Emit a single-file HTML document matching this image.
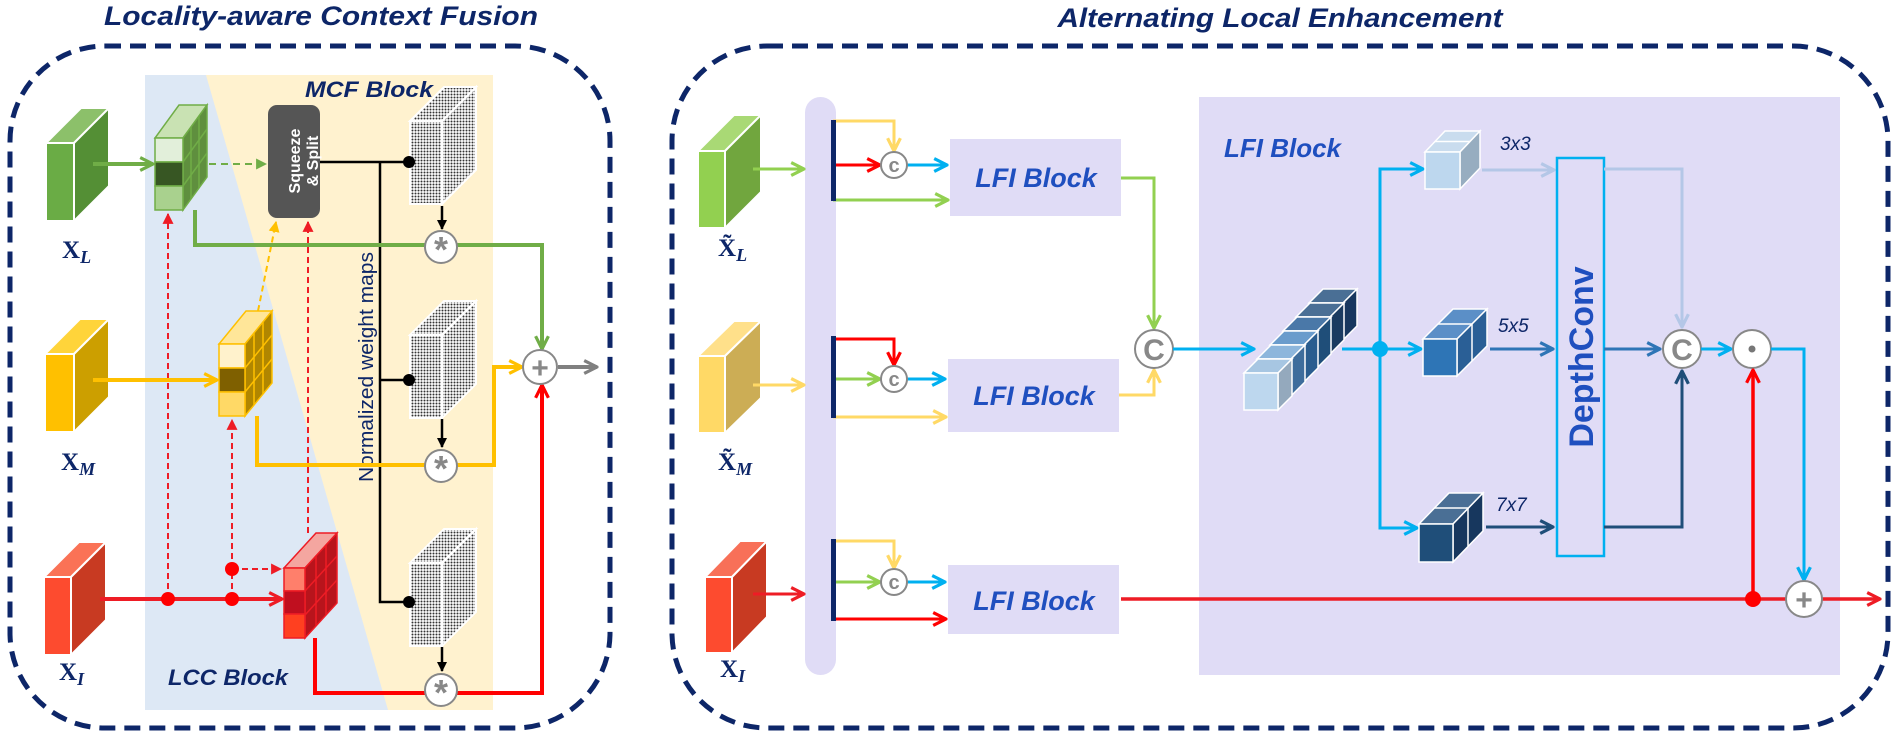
<!DOCTYPE html>
<html><head><meta charset="utf-8"><style>
html,body{margin:0;padding:0;background:#fff;}
svg{display:block;}
text{font-family:"Liberation Sans",sans-serif;}
text.sf{font-family:"Liberation Serif",serif;}
</style></head><body>
<svg width="1895" height="741" viewBox="0 0 1895 741" xmlns="http://www.w3.org/2000/svg">
<defs>
<pattern id="dots" width="3" height="3" patternUnits="userSpaceOnUse"><rect width="3" height="3" fill="#fff"/><circle cx="1.5" cy="1.5" r="1" fill="#333"/></pattern>
<marker id="g1" viewBox="0 0 10 10" refX="9" refY="5" markerWidth="16" markerHeight="16" markerUnits="userSpaceOnUse" orient="auto"><path d="M1,1 L9,5 L1,9" fill="none" stroke="#70ad47" stroke-width="2"/></marker>
<marker id="y1" viewBox="0 0 10 10" refX="9" refY="5" markerWidth="16" markerHeight="16" markerUnits="userSpaceOnUse" orient="auto"><path d="M1,1 L9,5 L1,9" fill="none" stroke="#ffc000" stroke-width="2"/></marker>
<marker id="r1" viewBox="0 0 10 10" refX="9" refY="5" markerWidth="16" markerHeight="16" markerUnits="userSpaceOnUse" orient="auto"><path d="M1,1 L9,5 L1,9" fill="none" stroke="#ff0000" stroke-width="2"/></marker>
<marker id="r2" viewBox="0 0 10 10" refX="9" refY="5" markerWidth="16" markerHeight="16" markerUnits="userSpaceOnUse" orient="auto"><path d="M1,1 L9,5 L1,9" fill="none" stroke="#ee1c25" stroke-width="2"/></marker>
<marker id="gr" viewBox="0 0 10 10" refX="9" refY="5" markerWidth="16" markerHeight="16" markerUnits="userSpaceOnUse" orient="auto"><path d="M1,1 L9,5 L1,9" fill="none" stroke="#808080" stroke-width="2"/></marker>
<marker id="g2" viewBox="0 0 10 10" refX="9" refY="5" markerWidth="16" markerHeight="16" markerUnits="userSpaceOnUse" orient="auto"><path d="M1,1 L9,5 L1,9" fill="none" stroke="#92d050" stroke-width="2"/></marker>
<marker id="y2" viewBox="0 0 10 10" refX="9" refY="5" markerWidth="16" markerHeight="16" markerUnits="userSpaceOnUse" orient="auto"><path d="M1,1 L9,5 L1,9" fill="none" stroke="#ffd966" stroke-width="2"/></marker>
<marker id="bl" viewBox="0 0 10 10" refX="9" refY="5" markerWidth="16" markerHeight="16" markerUnits="userSpaceOnUse" orient="auto"><path d="M1,1 L9,5 L1,9" fill="none" stroke="#00b0f0" stroke-width="2"/></marker>
<marker id="lb" viewBox="0 0 10 10" refX="9" refY="5" markerWidth="16" markerHeight="16" markerUnits="userSpaceOnUse" orient="auto"><path d="M1,1 L9,5 L1,9" fill="none" stroke="#b4c7e7" stroke-width="2"/></marker>
<marker id="mb" viewBox="0 0 10 10" refX="9" refY="5" markerWidth="16" markerHeight="16" markerUnits="userSpaceOnUse" orient="auto"><path d="M1,1 L9,5 L1,9" fill="none" stroke="#2e75b6" stroke-width="2"/></marker>
<marker id="db" viewBox="0 0 10 10" refX="9" refY="5" markerWidth="16" markerHeight="16" markerUnits="userSpaceOnUse" orient="auto"><path d="M1,1 L9,5 L1,9" fill="none" stroke="#1f4e79" stroke-width="2"/></marker>
<marker id="kt" viewBox="0 0 10 10" refX="9" refY="5" markerWidth="10" markerHeight="10" markerUnits="userSpaceOnUse" orient="auto"><path d="M0,0 L10,5 L0,10 z" fill="#000"/></marker>
<marker id="rt" viewBox="0 0 10 10" refX="9" refY="5" markerWidth="11" markerHeight="11" markerUnits="userSpaceOnUse" orient="auto"><path d="M0,0 L10,5 L0,10 z" fill="#ee1c25"/></marker>
<marker id="yt" viewBox="0 0 10 10" refX="9" refY="5" markerWidth="11" markerHeight="11" markerUnits="userSpaceOnUse" orient="auto"><path d="M0,0 L10,5 L0,10 z" fill="#ffc000"/></marker>
<marker id="gt" viewBox="0 0 10 10" refX="9" refY="5" markerWidth="11" markerHeight="11" markerUnits="userSpaceOnUse" orient="auto"><path d="M0,0 L10,5 L0,10 z" fill="#70ad47"/></marker>
</defs>

<!-- ============ LEFT PANEL ============ -->
<text x="321" y="25" font-size="27" font-weight="bold" font-style="italic" fill="#0d2668" text-anchor="middle" textLength="434" lengthAdjust="spacingAndGlyphs">Locality-aware Context Fusion</text>
<rect x="10" y="46" width="600" height="682" rx="95" ry="95" fill="none" stroke="#0d2668" stroke-width="5" stroke-dasharray="16 9"/>
<rect x="145" y="75" width="348" height="635" fill="#dde8f5"/>
<polygon points="206,75 493,75 493,710 388,710" fill="#fff2cf"/>
<text x="305" y="97" font-size="22" font-weight="bold" font-style="italic" fill="#0d2668" textLength="128" lengthAdjust="spacingAndGlyphs">MCF Block</text>
<text x="168" y="685" font-size="22" font-weight="bold" font-style="italic" fill="#0d2668" textLength="120" lengthAdjust="spacingAndGlyphs">LCC Block</text>

<g stroke="#fff" stroke-width="2">
<polygon points="46,143 74,143 109,108 81,108" fill="#8cc06a"/><polygon points="74,143 109,108 109,186 74,221" fill="#548f35"/><rect x="46" y="143" width="28" height="78" fill="#6aac45"/>
<polygon points="45,354 74,354 109,319 80,319" fill="#ffd43a"/><polygon points="74,354 109,319 109,397 74,432" fill="#cc9f00"/><rect x="45" y="354" width="29" height="78" fill="#ffc000"/>
<polygon points="44,577 71,577 106,542 79,542" fill="#fa7256"/><polygon points="71,577 106,542 106,620 71,655" fill="#c83a22"/><rect x="44" y="577" width="27" height="78" fill="#fd4b2f"/>
</g>
<g font-weight="bold" fill="#0d2668">
<text class="sf" x="62" y="258" font-size="25">X<tspan font-size="18" font-style="italic" dy="5">L</tspan></text>
<text class="sf" x="61" y="470" font-size="25">X<tspan font-size="18" font-style="italic" dy="5">M</tspan></text>
<text class="sf" x="59" y="680" font-size="25">X<tspan font-size="18" font-style="italic" dy="5">I</tspan></text>
</g>

<g stroke="#70ad47" stroke-width="1.5">
<polygon points="155,138 183,138 207,105 179,105" fill="#c9e2b3"/>
<polygon points="183,138 207,105 207,177 183,210" fill="#5f8f3e"/>
<line x1="191" y1="127" x2="191" y2="199"/><line x1="199" y1="116" x2="199" y2="188"/>
<line x1="183" y1="162" x2="207" y2="129"/><line x1="183" y1="186" x2="207" y2="153"/>
<rect x="155" y="138" width="28" height="24" fill="#e2efda"/><rect x="155" y="162" width="28" height="24" fill="#375623"/><rect x="155" y="186" width="28" height="24" fill="#a9d18e"/>
</g>
<g stroke="#ffc000" stroke-width="1.5">
<polygon points="219,344 245,344 272,311 246,311" fill="#ffe699"/>
<polygon points="245,344 272,311 272,383 245,416" fill="#b08600"/>
<line x1="254" y1="333" x2="254" y2="405"/><line x1="263" y1="322" x2="263" y2="394"/>
<line x1="245" y1="368" x2="272" y2="335"/><line x1="245" y1="392" x2="272" y2="359"/>
<rect x="219" y="344" width="26" height="24" fill="#fff2cc"/><rect x="219" y="368" width="26" height="24" fill="#7f6000"/><rect x="219" y="392" width="26" height="24" fill="#ffd966"/>
</g>
<g stroke="#ee1c25" stroke-width="1.5">
<polygon points="284,568 305,568 337,533 316,533" fill="#f4a6a0"/>
<polygon points="305,568 337,533 337,603 305,638" fill="#b8141c"/>
<line x1="316" y1="556" x2="316" y2="626"/><line x1="326" y1="545" x2="326" y2="615"/>
<line x1="305" y1="591" x2="337" y2="556"/><line x1="305" y1="615" x2="337" y2="580"/>
<rect x="284" y="568" width="21" height="23" fill="#ff7f6b"/><rect x="284" y="591" width="21" height="23" fill="#c00f1f"/><rect x="284" y="614" width="21" height="24" fill="#ff4020"/>
</g>

<rect x="268" y="105" width="52" height="113" rx="9" fill="#555"/>
<text transform="translate(300,161) rotate(-90)" font-size="16" font-weight="bold" fill="#fff" text-anchor="middle">Squeeze</text>
<text transform="translate(318,161) rotate(-90)" font-size="16" font-weight="bold" fill="#fff" text-anchor="middle">&amp; Split</text>

<g stroke="#fff" stroke-width="2">
<polygon points="410,121 442,121 476,87 444,87" fill="url(#dots)"/><polygon points="442,121 476,87 476,170 442,204" fill="url(#dots)"/><rect x="410" y="121" width="32" height="83" fill="url(#dots)"/>
<polygon points="410,335 442,335 476,301 444,301" fill="url(#dots)"/><polygon points="442,335 476,301 476,384 442,418" fill="url(#dots)"/><rect x="410" y="335" width="32" height="83" fill="url(#dots)"/>
<polygon points="410,563 442,563 476,529 444,529" fill="url(#dots)"/><polygon points="442,563 476,529 476,612 442,646" fill="url(#dots)"/><rect x="410" y="563" width="32" height="83" fill="url(#dots)"/>
</g>

<g stroke="#000" stroke-width="2.5" fill="none">
<polyline points="320,162 408,162"/><polyline points="380,162 380,602 408,602"/><polyline points="380,380 408,380"/>
<line x1="442" y1="206" x2="442" y2="229" marker-end="url(#kt)"/>
<line x1="442" y1="419" x2="442" y2="447" marker-end="url(#kt)"/>
<line x1="442" y1="647" x2="442" y2="671" marker-end="url(#kt)"/>
</g>
<circle cx="409" cy="162" r="6" fill="#000"/><circle cx="409" cy="380" r="6" fill="#000"/><circle cx="409" cy="602" r="6" fill="#000"/>
<text transform="translate(373,367) rotate(-90)" font-size="20" fill="#0d2668" text-anchor="middle" textLength="230" lengthAdjust="spacingAndGlyphs">Normalized weight maps</text>

<line x1="209" y1="164" x2="266" y2="164" stroke="#70ad47" stroke-width="2" stroke-dasharray="7 5" marker-end="url(#gt)"/>
<g stroke="#ee1c25" stroke-width="2" stroke-dasharray="6 4" fill="none">
<line x1="168" y1="599" x2="168" y2="214" marker-end="url(#rt)"/>
<line x1="232" y1="599" x2="232" y2="420" marker-end="url(#rt)"/>
<line x1="232" y1="569" x2="281" y2="569" marker-end="url(#rt)"/>
<line x1="308" y1="533" x2="308" y2="222" marker-end="url(#rt)"/>
</g>
<line x1="258" y1="311" x2="276" y2="222" stroke="#ffc000" stroke-width="2" stroke-dasharray="6 4" marker-end="url(#yt)"/>

<line x1="93" y1="164" x2="153" y2="164" stroke="#70ad47" stroke-width="4" marker-end="url(#g1)"/>
<line x1="93" y1="380" x2="217" y2="380" stroke="#ffc000" stroke-width="4" marker-end="url(#y1)"/>
<line x1="100" y1="599" x2="282" y2="599" stroke="#ee1c25" stroke-width="4" marker-end="url(#r2)"/>
<circle cx="168" cy="599" r="7" fill="#ff0000"/><circle cx="232" cy="599" r="7" fill="#ff0000"/><circle cx="232" cy="569" r="7" fill="#ff0000"/>

<polyline points="195,210 195,245 542,245 542,349" fill="none" stroke="#70ad47" stroke-width="4" marker-end="url(#g1)"/>
<polyline points="257,416 257,465 494,465 494,367 522,367" fill="none" stroke="#ffc000" stroke-width="4" marker-end="url(#y1)"/>
<polyline points="315,638 315,693 542,693 542,385" fill="none" stroke="#ff0000" stroke-width="4" marker-end="url(#r1)"/>
<line x1="558" y1="367" x2="597" y2="367" stroke="#808080" stroke-width="4" marker-end="url(#gr)"/>

<g fill="#fff" stroke="#888" stroke-width="2">
<circle cx="441" cy="247" r="16"/><circle cx="441" cy="466" r="16"/><circle cx="441" cy="690" r="16"/><circle cx="540" cy="367" r="17"/>
</g>
<g fill="#888" font-weight="bold" text-anchor="middle">
<text x="441" y="262" font-size="36">*</text><text x="441" y="481" font-size="36">*</text><text x="441" y="705" font-size="36">*</text>
<text x="540" y="378" font-size="30">+</text>
</g>

<!-- ============ RIGHT PANEL ============ -->
<text x="1280" y="27" font-size="27" font-weight="bold" font-style="italic" fill="#0d2668" text-anchor="middle" textLength="445" lengthAdjust="spacingAndGlyphs">Alternating Local Enhancement</text>
<rect x="672" y="46" width="1216" height="682" rx="95" ry="95" fill="none" stroke="#0d2668" stroke-width="5" stroke-dasharray="16 9"/>
<rect x="805" y="97" width="31" height="578" rx="15.5" fill="#e0dcf6"/>
<rect x="1199" y="97" width="641" height="578" fill="#e0dcf6"/>

<g stroke="#fff" stroke-width="2">
<polygon points="698,151 725,151 761,115 734,115" fill="#a9d975"/><polygon points="725,151 761,115 761,192 725,228" fill="#71a63e"/><rect x="698" y="151" width="27" height="77" fill="#92d050"/>
<polygon points="698,356 725,356 761,321 734,321" fill="#ffe08a"/><polygon points="725,356 761,321 761,398 725,433" fill="#ccad55"/><rect x="698" y="356" width="27" height="77" fill="#ffd966"/>
<polygon points="705,577 732,577 767,541 740,541" fill="#f87058"/><polygon points="732,577 767,541 767,617 732,653" fill="#c83a22"/><rect x="705" y="577" width="27" height="76" fill="#fd4b2f"/>
</g>
<g font-weight="bold" fill="#0d2668">
<text class="sf" x="718" y="256" font-size="25">X̃<tspan font-size="18" font-style="italic" dy="5">L</tspan></text>
<text class="sf" x="718" y="470" font-size="25">X̃<tspan font-size="18" font-style="italic" dy="5">M</tspan></text>
<text class="sf" x="720" y="677" font-size="25">X<tspan font-size="18" font-style="italic" dy="5">I</tspan></text>
</g>
<line x1="753" y1="169" x2="804" y2="169" stroke="#92d050" stroke-width="3" marker-end="url(#g2)"/>
<line x1="753" y1="385" x2="804" y2="385" stroke="#ffd966" stroke-width="3" marker-end="url(#y2)"/>
<line x1="753" y1="594" x2="804" y2="594" stroke="#ee1c25" stroke-width="3" marker-end="url(#r2)"/>

<g stroke-width="3" fill="none">
<polyline points="833,121 894,121 894,151" stroke="#ffd966" marker-end="url(#y2)"/>
<line x1="833" y1="165" x2="880" y2="165" stroke="#ff0000" marker-end="url(#r1)"/>
<line x1="907" y1="165" x2="947" y2="165" stroke="#00b0f0" marker-end="url(#bl)"/>
<line x1="833" y1="200" x2="948" y2="200" stroke="#92d050" marker-end="url(#g2)"/>
<polyline points="833,339 894,339 894,365" stroke="#ff0000" marker-end="url(#r1)"/>
<line x1="833" y1="379" x2="880" y2="379" stroke="#92d050" marker-end="url(#g2)"/>
<line x1="907" y1="379" x2="945" y2="379" stroke="#00b0f0" marker-end="url(#bl)"/>
<line x1="833" y1="417" x2="946" y2="417" stroke="#ffd966" marker-end="url(#y2)"/>
<polyline points="833,541 894,541 894,568" stroke="#ffd966" marker-end="url(#y2)"/>
<line x1="833" y1="582" x2="880" y2="582" stroke="#92d050" marker-end="url(#g2)"/>
<line x1="907" y1="582" x2="945" y2="582" stroke="#00b0f0" marker-end="url(#bl)"/>
<line x1="833" y1="619" x2="946" y2="619" stroke="#ff0000" marker-end="url(#r1)"/>
</g>
<g fill="#0d2668"><rect x="831" y="120" width="5" height="81"/><rect x="831" y="336" width="5" height="82"/><rect x="831" y="539" width="5" height="82"/></g>
<g fill="#fff" stroke="#888" stroke-width="2"><circle cx="894" cy="165" r="13"/><circle cx="894" cy="379" r="13"/><circle cx="894" cy="582" r="13"/></g>
<g fill="#888" font-weight="bold" font-size="20" text-anchor="middle"><text x="894" y="172">c</text><text x="894" y="386">c</text><text x="894" y="589">c</text></g>

<g fill="#e0dcf6"><rect x="950" y="139" width="171" height="77"/><rect x="948" y="359" width="171" height="73"/><rect x="948" y="565" width="171" height="69"/></g>
<g font-size="27" font-weight="bold" font-style="italic" fill="#1f4fbf" text-anchor="middle">
<text x="1036" y="187">LFI Block</text><text x="1034" y="405">LFI Block</text><text x="1034" y="610">LFI Block</text>
</g>
<polyline points="1121,178 1154,178 1154,328" fill="none" stroke="#92d050" stroke-width="3" marker-end="url(#g2)"/>
<polyline points="1119,395 1154,395 1154,370" fill="none" stroke="#ffd966" stroke-width="3" marker-end="url(#y2)"/>
<circle cx="1154" cy="349" r="19" fill="#fff" stroke="#888" stroke-width="2"/>
<text x="1154" y="360" font-size="30" font-weight="bold" fill="#888" text-anchor="middle">C</text>
<line x1="1173" y1="349" x2="1254" y2="349" stroke="#00b0f0" stroke-width="3" marker-end="url(#bl)"/>

<text x="1224" y="157" font-size="26" font-weight="bold" font-style="italic" fill="#1f4fbf">LFI Block</text>

<g stroke="#fff" stroke-width="1.5">
<g transform="translate(65,-70)"><polygon points="1244,373 1278,373 1292,359 1258,359" fill="#4a6f95"/><polygon points="1278,373 1292,359 1292,396 1278,410" fill="#17375e"/><rect x="1244" y="373" width="34" height="37" fill="#1f4e79"/></g>
<g transform="translate(52,-56)"><polygon points="1244,373 1278,373 1292,359 1258,359" fill="#4a6f95"/><polygon points="1278,373 1292,359 1292,396 1278,410" fill="#1a3b60"/><rect x="1244" y="373" width="34" height="37" fill="#2f5f8f"/></g>
<g transform="translate(39,-42)"><polygon points="1244,373 1278,373 1292,359 1258,359" fill="#4a78a8"/><polygon points="1278,373 1292,359 1292,396 1278,410" fill="#1f4e79"/><rect x="1244" y="373" width="34" height="37" fill="#2e75b6"/></g>
<g transform="translate(26,-28)"><polygon points="1244,373 1278,373 1292,359 1258,359" fill="#6a9ccc"/><polygon points="1278,373 1292,359 1292,396 1278,410" fill="#2a5d8f"/><rect x="1244" y="373" width="34" height="37" fill="#5b9bd5"/></g>
<g transform="translate(13,-14)"><polygon points="1244,373 1278,373 1292,359 1258,359" fill="#8db6dc"/><polygon points="1278,373 1292,359 1292,396 1278,410" fill="#3e6d9c"/><rect x="1244" y="373" width="34" height="37" fill="#9dc3e6"/></g>
<g><polygon points="1244,373 1278,373 1292,359 1258,359" fill="#a7c6e2"/><polygon points="1278,373 1292,359 1292,396 1278,410" fill="#94a9bd"/><rect x="1244" y="373" width="34" height="37" fill="#bdd7ee"/></g>
</g>

<line x1="1342" y1="349" x2="1380" y2="349" stroke="#00b0f0" stroke-width="3"/>
<polyline points="1380,349 1380,169 1423,169" fill="none" stroke="#00b0f0" stroke-width="3" marker-end="url(#bl)"/>
<polyline points="1380,349 1380,528 1417,528" fill="none" stroke="#00b0f0" stroke-width="3" marker-end="url(#bl)"/>
<line x1="1380" y1="349" x2="1421" y2="349" stroke="#00b0f0" stroke-width="3" marker-end="url(#bl)"/>
<circle cx="1380" cy="349" r="8" fill="#00b0f0"/>

<g stroke="#fff" stroke-width="1.5">
<polygon points="1425,152 1460,152 1480,131 1445,131" fill="#c9dcee"/><line x1="1435" y1="141.5" x2="1470" y2="141.5"/><polygon points="1460,152 1480,131 1480,168 1460,189" fill="#97adc0"/><rect x="1425" y="152" width="35" height="37" fill="#bdd7ee"/>
<polygon points="1423,339 1457,339 1487,309 1453,309" fill="#5b8fc7"/><line x1="1438" y1="324" x2="1472" y2="324"/><polygon points="1457,339 1487,309 1487,346 1457,376" fill="#2a5f96"/><line x1="1472" y1="324" x2="1472" y2="361"/><rect x="1423" y="339" width="34" height="37" fill="#2e75b6"/>
<polygon points="1419,524 1453,524 1483,493 1449,493" fill="#4a6f95"/><line x1="1434" y1="508" x2="1468" y2="508"/><polygon points="1453,524 1483,493 1483,531 1453,562" fill="#17375e"/><line x1="1468" y1="508" x2="1468" y2="546"/><rect x="1419" y="524" width="34" height="38" fill="#1f4e79"/>
</g>
<g font-size="19" font-style="italic" fill="#0d2668"><text x="1500" y="150">3x3</text><text x="1498" y="332">5x5</text><text x="1496" y="511">7x7</text></g>

<line x1="1482" y1="170" x2="1554" y2="170" stroke="#b4c7e7" stroke-width="3" marker-end="url(#lb)"/>
<line x1="1490" y1="349" x2="1553" y2="349" stroke="#2e75b6" stroke-width="3" marker-end="url(#mb)"/>
<line x1="1486" y1="527" x2="1553" y2="527" stroke="#1f4e79" stroke-width="3" marker-end="url(#db)"/>

<rect x="1557" y="158" width="47" height="398" fill="none" stroke="#00b0f0" stroke-width="2.5"/>
<text transform="translate(1593,357) rotate(-90)" font-size="34" font-weight="bold" fill="#1f4fbf" text-anchor="middle">DepthConv</text>

<polyline points="1604,169 1682,169 1682,327" fill="none" stroke="#b4c7e7" stroke-width="3" marker-end="url(#lb)"/>
<line x1="1604" y1="349" x2="1660" y2="349" stroke="#2e75b6" stroke-width="3" marker-end="url(#mb)"/>
<polyline points="1604,527 1682,527 1682,371" fill="none" stroke="#1f4e79" stroke-width="3" marker-end="url(#db)"/>
<circle cx="1682" cy="349" r="19" fill="#fff" stroke="#888" stroke-width="2"/>
<text x="1682" y="360" font-size="30" font-weight="bold" fill="#888" text-anchor="middle">C</text>
<line x1="1701" y1="349" x2="1731" y2="349" stroke="#00b0f0" stroke-width="3" marker-end="url(#bl)"/>
<circle cx="1752" cy="349" r="19" fill="#fff" stroke="#888" stroke-width="2"/>
<circle cx="1752" cy="349" r="3.5" fill="#777"/>
<polyline points="1771,349 1804,349 1804,580" fill="none" stroke="#00b0f0" stroke-width="3" marker-end="url(#bl)"/>

<line x1="1121" y1="599" x2="1880" y2="599" stroke="#ee1c25" stroke-width="3.5" marker-end="url(#r2)"/>
<line x1="1753" y1="599" x2="1753" y2="370" stroke="#ff0000" stroke-width="3.5" marker-end="url(#r1)"/>
<circle cx="1753" cy="599" r="8" fill="#ff0000"/>
<circle cx="1804" cy="599" r="18" fill="#fff" stroke="#888" stroke-width="2"/>
<text x="1804" y="610" font-size="30" font-weight="bold" fill="#888" text-anchor="middle">+</text>
</svg>
</body></html>
